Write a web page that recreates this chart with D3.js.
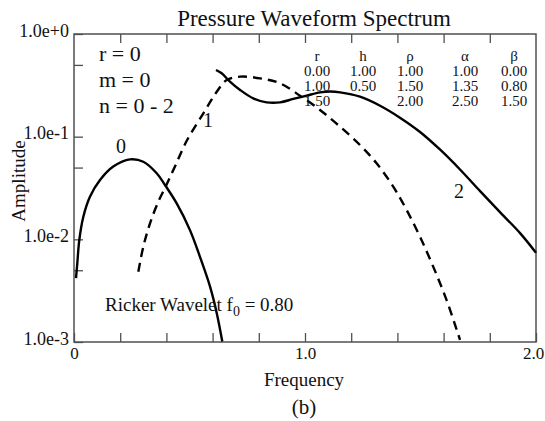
<!DOCTYPE html>
<html><head><meta charset="utf-8">
<script src="https://cdn.jsdelivr.net/npm/d3@7"></script>
<style>
body{margin:0;background:#fff;}
svg text{font-family:"Liberation Serif","Times New Roman",serif !important;fill:#111;}
</style></head>
<body><svg id="c" width="545" height="421"></svg>
<script>
// ---- data ----
const freq0 = [0.0087,0.0143,0.023,0.0404,0.069,0.1126,0.170,0.2424,0.300,0.358,0.394,0.4446,0.502,0.545,0.589,0.618,0.642];
const amp0  = [0.00418,0.00585,0.00986,0.0166,0.026,0.0378,0.0511,0.0601,0.057,0.044,0.0338,0.0224,0.0123,0.00678,0.00346,0.00191,0.00101];
const freq1 = [0.2785,0.300,0.329,0.365,0.398,0.437,0.488,0.560,0.618,0.661,0.719,0.805,0.892,0.978,1.065,1.152,1.238,1.310,1.382,1.440,1.498,1.555,1.613,1.671];
const amp1  = [0.00484,0.00847,0.0143,0.0233,0.0331,0.0513,0.0912,0.169,0.274,0.356,0.384,0.370,0.331,0.251,0.182,0.125,0.083,0.055,0.0326,0.0193,0.0106,0.00542,0.00256,0.00105];
const freq2 = [0.6147,0.6393,0.675,0.719,0.776,0.834,0.892,0.949,1.007,1.065,1.11,1.152,1.238,1.325,1.411,1.498,1.584,1.671,1.758,1.844,1.931,2.0];
const amp2  = [0.446,0.414,0.344,0.285,0.236,0.216,0.216,0.233,0.251,0.270,0.275,0.270,0.245,0.200,0.153,0.111,0.075,0.0479,0.0295,0.0184,0.0115,0.00741];
const xTicks = [0,0.2,0.4,0.6,0.8,1.0,1.2,1.4,1.6,1.8,2.0];
const xTickLabels = new Map([[0,"0"],[1,"1.0"],[2,"2.0"]]);
const yTicks = [1,0.5,0.1,0.05,0.01,0.005,0.001];
const yTickLabels = new Map([[1,"1.0e+0"],[0.1,"1.0e-1"],[0.01,"1.0e-2"],[0.001,"1.0e-3"]]);
const tableHead = ["r","h","ρ","α","β"];
const tableRows = [["0.00","1.00","1.00","1.00","0.00"],["1.00","0.50","1.50","1.35","0.80"],["1.50","","2.00","2.50","1.50"]];
const paramLines = ["r = 0","m = 0","n = 0 - 2"];
const curveLabels = ["0","1","2"];

// ---- layout ----
const L=74,R=536,T=34,B=342;
const FONT='font-family:"Liberation Serif","Times New Roman",serif';
const svg=d3.select("#c");
const x=d3.scaleLinear().domain([0,2]).range([L,R]);
const y=d3.scaleLog().domain([0.001,1]).range([B,T]);

const frameCol="#505050";
const gB=svg.append("g").attr("transform",`translate(0,${B})`)
  .call(d3.axisBottom(x).tickValues(xTicks).tickSize(-9).tickPadding(4)
    .tickFormat(d=>xTickLabels.get(d)||""));
const gT=svg.append("g").attr("transform",`translate(0,${T})`)
  .call(d3.axisTop(x).tickValues(xTicks.slice(1,-1)).tickSize(-9).tickFormat(""));
const gL=svg.append("g").attr("transform",`translate(${L},0)`)
  .call(d3.axisLeft(y).tickValues(yTicks).tickSize(-9).tickPadding(5)
    .tickFormat(d=>yTickLabels.get(d)||""));
[gB,gT,gL].forEach(g=>{
  g.attr("font-family",null).attr("font-size",null);
  g.select(".domain").remove();
  g.selectAll(".tick line").attr("stroke",frameCol).attr("stroke-width",1.3);
  g.selectAll("text").attr("style",FONT).attr("fill","#111");
});
gB.selectAll("text").attr("font-size",17).attr("dy","0.78em");
gB.selectAll(".tick").filter(d=>d===2).select("text").attr("dx",-3);
gL.selectAll("text").attr("font-size",18).attr("dy","0.12em");

svg.append("rect").attr("x",L).attr("y",T).attr("width",R-L).attr("height",B-T)
  .attr("fill","none").attr("stroke",frameCol).attr("stroke-width",1.5);

// curves
const line=d3.line().x(d=>x(d[0])).y(d=>y(d[1])).curve(d3.curveCatmullRom.alpha(0.5));
const mk=(f,a)=>f.map((v,i)=>[v,a[i]]);
svg.append("path").datum(mk(freq0,amp0)).attr("d",line).attr("fill","none").attr("stroke","#000").attr("stroke-width",2.4);
svg.append("path").datum(mk(freq1,amp1)).attr("d",line).attr("fill","none").attr("stroke","#000").attr("stroke-width",2.4).attr("stroke-dasharray","9,6");
svg.append("path").datum(mk(freq2,amp2)).attr("d",line).attr("fill","none").attr("stroke","#000").attr("stroke-width",2.4);

const txt=(xx,yy,s,size,anchor)=>svg.append("text").attr("x",xx).attr("y",yy)
  .attr("text-anchor",anchor||"start").attr("font-size",size).attr("style",FONT).text(s);

// titles
txt(314,26,"Pressure Waveform Spectrum",23,"middle");
txt(304,386,"Frequency",19,"middle");
txt(304,414,"(b)",21,"middle");
svg.append("text").attr("transform","translate(25,181) rotate(-90)").attr("text-anchor","middle")
  .attr("font-size",19).attr("style",FONT).text("Amplitude");

// parameter annotations
paramLines.forEach((t,i)=>txt(99,61+i*26,t,22));

// table
const colX=[317,363,410,465,514];
tableHead.forEach((h,j)=>txt(colX[j],61,h,15,"middle"));
tableRows.forEach((row,i)=>row.forEach((v,j)=>{ if(v) txt(colX[j],76+i*15,v,15,"middle");}));

// curve labels
const labPos=[[121,153],[208,127],[459,198]];
curveLabels.forEach((s,i)=>txt(labPos[i][0],labPos[i][1],s,20,"middle"));

// Ricker label
const rk=svg.append("text").attr("x",105).attr("y",311).attr("font-size",19).attr("style",FONT);
rk.append("tspan").text("Ricker Wavelet f");
rk.append("tspan").attr("font-size",14).attr("dy",5).text("0");
rk.append("tspan").attr("dy",-5).text(" = 0.80");
</script></body></html>
